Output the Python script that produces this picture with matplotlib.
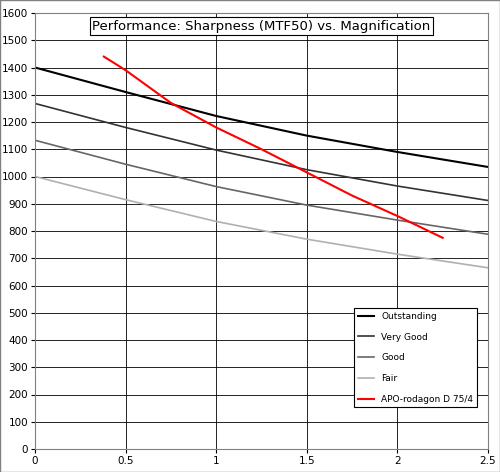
import matplotlib
matplotlib.use("Agg")
import matplotlib.pyplot as plt

x_std = [0, 0.5, 1, 1.5, 2, 2.5]
outstanding = [1400, 1310, 1222, 1150, 1090, 1035]
very_good = [1268, 1180, 1097, 1025, 965, 912]
good = [1133, 1045, 963, 895, 840, 788]
fair = [1000, 915, 835, 770, 715, 665]
x_red = [0.38, 0.5, 0.75, 1.0, 1.25, 1.5, 1.75, 2.0, 2.25]
apo = [1440, 1390, 1270, 1180, 1100, 1015, 930, 855, 775]

fig = plt.figure(figsize=(5, 4.72), dpi=100)
ax = fig.add_axes([35/500, 23/472, 453/500, 436/472])
ax.plot(x_std, outstanding, color="black", lw=1.5, label="Outstanding")
ax.plot(x_std, very_good, color="#333333", lw=1.2, label="Very Good")
ax.plot(x_std, good, color="#666666", lw=1.2, label="Good")
ax.plot(x_std, fair, color="#b0b0b0", lw=1.2, label="Fair")
ax.plot(x_red, apo, color="red", lw=1.5, label="APO-rodagon D 75/4")
ax.set_xlim(0, 2.5)
ax.set_ylim(0, 1600)
ax.set_xticks([0, 0.5, 1, 1.5, 2, 2.5])
ax.set_xticklabels(["0", "0.5", "1", "1.5", "2", "2.5"])
ax.set_yticks(range(0, 1601, 100))
ax.grid(True, color="black", lw=0.6)
ax.tick_params(labelsize=7.5, length=3, pad=2)
for s in ax.spines.values():
    s.set_color("#808080")
ax.text(0.5, 0.985, "Performance: Sharpness (MTF50) vs. Magnification", transform=ax.transAxes,
        ha="center", va="top", fontsize=9.5,
        bbox=dict(facecolor="white", edgecolor="black", lw=0.8, pad=1.5))
leg = ax.legend(loc="lower right", bbox_to_anchor=(0.985, 0.085), fontsize=6.5, fancybox=False,
                edgecolor="black", framealpha=1, labelspacing=1.3, handlelength=1.8)
leg.get_frame().set_linewidth(0.8)
fig.patches.append(matplotlib.patches.Rectangle((0, 0), 1, 1, transform=fig.transFigure,
                   fill=False, edgecolor="#808080", lw=1))
fig.savefig("out.png", dpi=100)
